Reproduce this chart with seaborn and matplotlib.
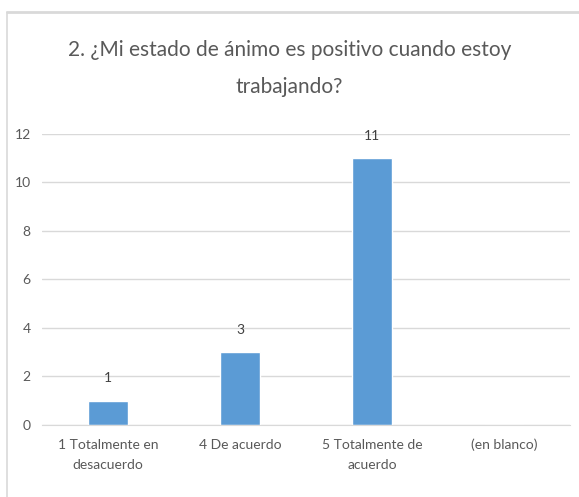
import matplotlib
matplotlib.use("Agg")
import matplotlib.pyplot as plt
import seaborn as sns
from matplotlib.lines import Line2D

categorias = ["1 Totalmente en\ndesacuerdo", "4 De acuerdo", "5 Totalmente de\nacuerdo", "(en blanco)"]
valores = [1, 3, 11, 0]
titulo = "2. ¿Mi estado de ánimo es positivo cuando estoy\ntrabajando?"

sns.set_style("white")
plt.rcParams['font.family'] = ['Lato', 'DejaVu Sans']

fig = plt.figure(figsize=(5.79, 4.97), dpi=100)
ax = fig.add_axes([0.0725, 0.145, 0.912, 0.5855])

sns.barplot(x=categorias, y=valores, color="#5B9BD5", width=0.31, ax=ax, saturation=1)

ax.set_ylim(0, 12)
ax.set_yticks(range(0, 13, 2))
ax.yaxis.grid(True, color="#D9D9D9", linewidth=1)
ax.set_axisbelow(True)
for s in ["top", "right", "left"]:
    ax.spines[s].set_visible(False)
ax.spines["bottom"].set_color("#D9D9D9")
ax.tick_params(axis="both", length=0, colors="#595959", labelsize=10)
ax.tick_params(axis="y", pad=8)
ax.tick_params(axis="x", pad=10)
for t in ax.get_xticklabels():
    t.set_linespacing(1.8)
ax.set_xlim(-0.5, 3.5)
ax.set_xlabel("")
ax.set_ylabel("")

for c in ax.containers:
    ax.bar_label(c, labels=[("%d" % v) if v else "" for v in valores],
                 padding=12, color="#404040", fontsize=10)

fig.text(0.5, 0.862, titulo, ha="center", va="center", fontsize=15,
         color="#595959", linespacing=2.1)

# borde del grafico
fig.add_artist(Line2D([0.012, 0.012], [0, 0.976], color="#D9D9D9", linewidth=1.2))
fig.add_artist(Line2D([0.012, 1], [0.976, 0.976], color="#D9D9D9", linewidth=2))

fig.savefig("out.png", dpi=100)
